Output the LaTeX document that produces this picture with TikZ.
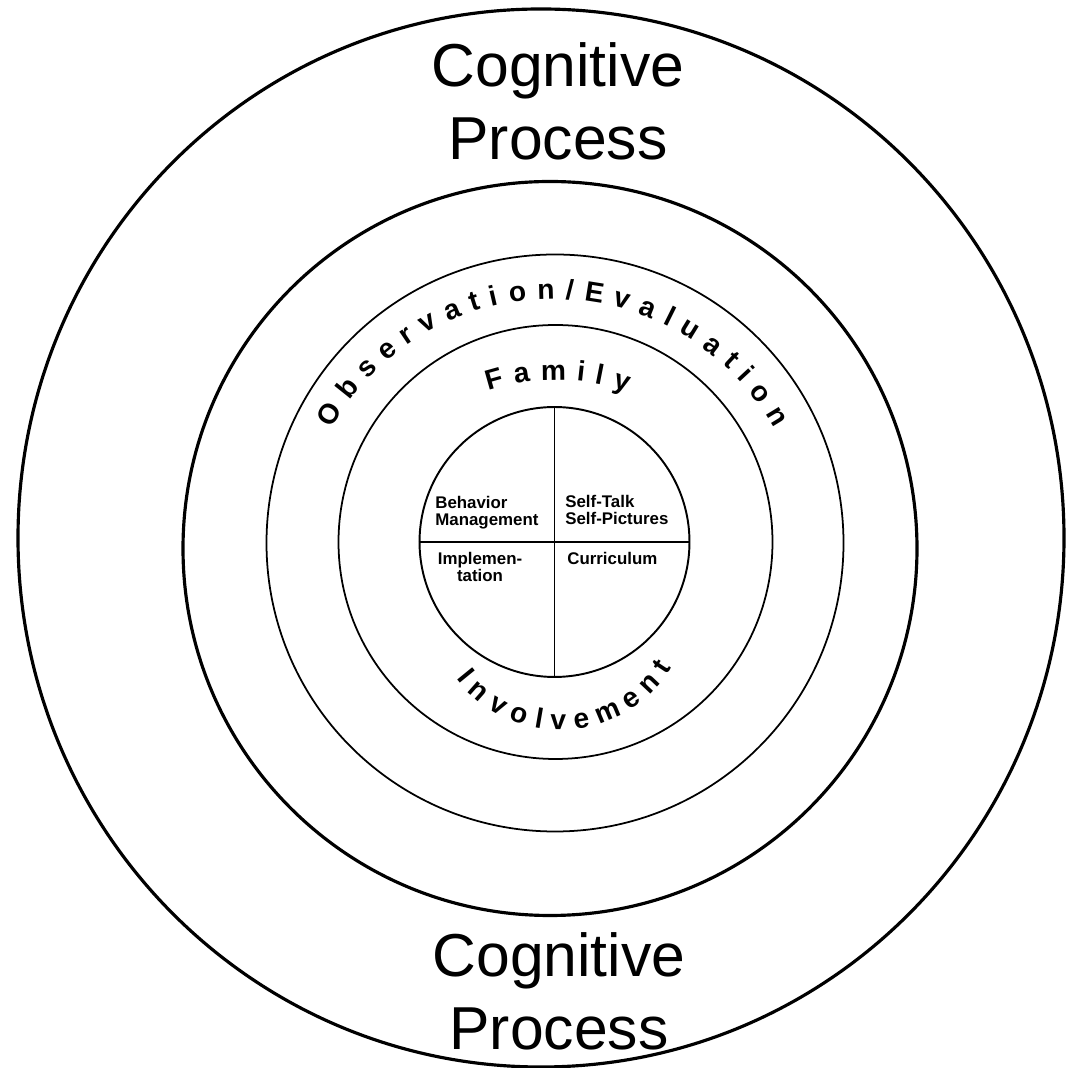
\documentclass[tikz,border=0pt]{standalone}
\usepackage{fontspec}
\setmainfont{Liberation Sans}
\usetikzlibrary{decorations.text}
\begin{document}
\begin{tikzpicture}[x=0.02cm,y=0.02cm,
		thick ring/.style={draw,line width=1.8pt},
		thin ring/.style={draw,line width=1pt},
		cp/.style={font=\fontsize{34.5}{41}\selectfont,anchor=base,inner sep=0pt},
		qt/.style={font=\fontsize{9.6}{9.8}\selectfont\bfseries,inner sep=0pt},
		core/.style={draw,circle,line width=1.1pt,minimum size=5.4cm,inner sep=0pt},
		curved/.style={decorate,decoration={text along path,text align={fit to path},
				text={|\fontsize{16}{19}\selectfont\bfseries|#1}}}]
	\useasboundingbox (0,0) rectangle (1066,1068);
	% rings
	\draw[thick ring] (541,530) ellipse [x radius=523,y radius=529];
	\draw[thick ring] (550,519.5) circle [radius=367];
	\draw[thin ring] (555,525) circle [radius=288.5];
	\draw[thin ring] (555.5,526) circle [radius=217];
	\node[core] (c) at (554.5,526) {};
	\draw[line width=1pt] (c.north) -- (c.south);
	\draw[line width=1pt] (c.west) -- (c.east);
	% curved labels
	\path[curved={Observation/Evaluation}] (553,515) ++(150.6:254)
		arc [start angle=150.6,end angle=29.4,radius=254];
	\path[curved=Family] (556,470) ++(108:218)
		arc [start angle=108,end angle=71,radius=218];
	\path[curved=Involvement] (560,469) ++(217.5:131)
		arc [start angle=217.5,end angle=328.5,radius=131];
	% quadrants (base = last line)
	\node[qt,anchor=base west,align=left] (behav) at (435,542) {Behavior\\Management};
	\node[qt,anchor=base west,align=left] (self) at (565,543) {Self-Talk\\Self-Pictures};
	\node[qt,anchor=base,align=center] (impl) at (480,486) {Implemen-\\tation};
	\node[qt,anchor=base west] (curr) at (567,503) {Curriculum};
	% outer labels
	\node[cp] (cog top) at (558,981) {Cognitive};
	\node[cp] (proc top) at (558,908) {Process};
	\node[cp] (cog bot) at (559,91) {Cognitive};
	\node[cp] (proc bot) at (559,18) {Process};
\end{tikzpicture}
\end{document}
